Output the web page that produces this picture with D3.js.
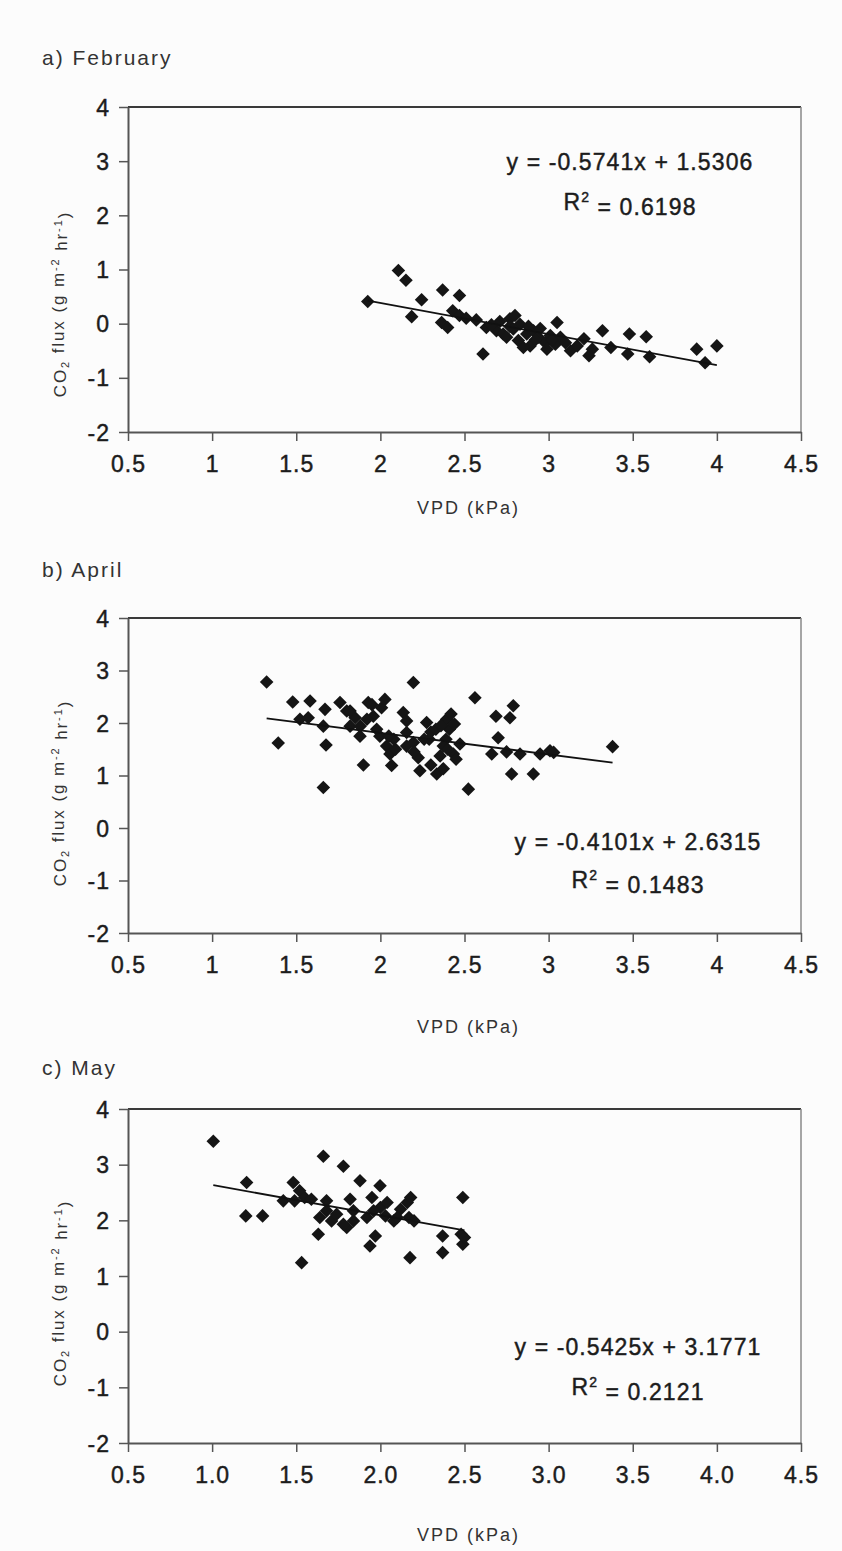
<!DOCTYPE html>
<html>
<head>
<meta charset="utf-8">
<script src="https://cdn.jsdelivr.net/npm/d3@7"></script>
<style>
  html, body { margin: 0; padding: 0; background: #fcfcfc; }
  svg { display: block; }
  text { font-family: "Liberation Sans", Arial, sans-serif; }
</style>
</head>
<body>
<svg id="chart" width="842" height="1551"></svg>
<script>
// ---------- data ----------
const panelTitles = ["a) February", "b) April", "c) May"];

const febVPD  = [1.925,2.107,2.152,2.245,2.186,2.37,2.47,2.364,2.40,2.43,2.47,2.51,2.57,2.61,2.63,2.69,2.73,2.77,2.80,2.77,2.83,2.82,2.87,2.89,2.91,2.94,2.98,3.01,3.05,3.04,3.07,3.13,3.17,3.21,3.24,3.26,3.32,3.37,3.48,3.47,3.58,3.60,3.88,3.93,4.00,2.75,2.85,2.99,2.71,2.95,2.66,2.79,2.92,3.02,2.88,3.10];
const febFlux = [0.41,0.98,0.80,0.44,0.13,0.62,0.52,0.02,-0.07,0.24,0.15,0.10,0.07,-0.56,-0.07,-0.13,-0.19,0.09,0.15,-0.05,-0.01,-0.31,-0.19,-0.41,-0.13,-0.25,-0.35,-0.22,0.02,-0.38,-0.25,-0.50,-0.41,-0.28,-0.59,-0.47,-0.13,-0.44,-0.19,-0.56,-0.24,-0.61,-0.47,-0.72,-0.41,-0.25,-0.44,-0.47,0.04,-0.09,-0.02,-0.10,-0.30,-0.30,-0.05,-0.35];

const aprVPD  = [1.324,1.393,1.479,1.582,1.522,1.571,1.671,1.661,1.677,1.661,1.760,1.80,1.82,1.85,1.879,1.899,1.928,1.958,1.978,2.007,2.027,1.997,2.037,2.057,2.067,2.09,2.136,2.156,2.196,2.156,2.196,2.225,2.235,2.275,2.30,2.29,2.335,2.355,2.374,2.394,2.41,2.42,2.434,2.45,2.374,2.473,2.523,2.562,2.662,2.687,2.70,2.79,2.77,2.75,2.78,2.83,2.909,2.949,3.008,3.03,3.38,1.82,1.88,1.92,2.33,2.39,2.156,2.08,2.26,2.36,2.44,2.40,2.20,2.05,1.95,2.30];
const aprFlux = [2.78,1.62,2.40,2.42,2.07,2.10,2.26,1.94,1.58,0.77,2.39,2.23,1.94,2.10,1.75,1.20,2.39,2.13,1.88,2.29,2.45,1.75,1.56,1.41,1.19,1.50,2.20,2.04,2.77,1.56,1.63,1.34,1.09,2.01,1.83,1.69,1.03,1.37,1.13,2.07,1.88,2.17,1.41,1.31,1.56,1.60,0.74,2.48,1.41,2.13,1.72,2.33,2.10,1.45,1.03,1.41,1.03,1.41,1.47,1.44,1.55,2.23,1.94,2.07,1.88,1.69,1.82,1.69,1.69,1.95,1.98,1.50,1.45,1.75,2.35,1.20];

const mayVPD  = [1.007,1.205,1.20,1.30,1.423,1.482,1.49,1.52,1.532,1.55,1.59,1.631,1.64,1.661,1.68,1.71,1.74,1.78,1.80,1.82,1.84,1.879,1.92,1.938,1.97,1.95,1.998,2.00,2.03,2.04,2.08,2.12,2.16,2.176,2.18,2.17,2.20,2.37,2.37,2.49,2.48,2.49,2.50,1.68,1.78,1.84,1.96,2.10];
const mayFlux = [3.42,2.68,2.08,2.08,2.35,2.68,2.35,2.53,1.24,2.41,2.38,1.75,2.05,3.15,2.17,1.99,2.11,2.97,1.87,2.38,1.99,2.71,2.05,1.54,1.72,2.41,2.62,2.23,2.08,2.32,1.99,2.20,2.32,1.33,2.41,2.05,1.99,1.72,1.42,2.41,1.75,1.57,1.69,2.35,1.93,2.17,2.17,2.05];

const slopes     = [-0.5741, -0.4101, -0.5425];
const intercepts = [1.5306, 2.6315, 3.1771];
const eqLabels   = ["y = -0.5741x + 1.5306", "y = -0.4101x + 2.6315", "y = -0.5425x + 3.1771"];
const r2Labels   = ["0.6198", "0.1483", "0.2121"];

const xTickValues = [0.5, 1, 1.5, 2, 2.5, 3, 3.5, 4, 4.5];
const xTickLabelsAB = ["0.5", "1", "1.5", "2", "2.5", "3", "3.5", "4", "4.5"];
const xTickLabelsC  = ["0.5", "1.0", "1.5", "2.0", "2.5", "3.0", "3.5", "4.0", "4.5"];
const yTickValues = [-2, -1, 0, 1, 2, 3, 4];
const yTickLabels = ["-2", "-1", "0", "1", "2", "3", "4"];
const xAxisTitle = "VPD (kPa)";

// ---------- layout ----------
const svg = d3.select("#chart");
const left = 128, right = 801;
const panels = [
  { top: 107, bottom: 432, vpd: febVPD, flux: febFlux, xt: xTickLabelsAB, titleY: 58, xLabY: 508, yLabC: 304, eqX: 630, eqY: 162, r2Y: 202 },
  { top: 618, bottom: 933, vpd: aprVPD, flux: aprFlux, xt: xTickLabelsAB, titleY: 570, xLabY: 1027, yLabC: 793, eqX: 638, eqY: 842, r2Y: 880 },
  { top: 1109, bottom: 1443, vpd: mayVPD, flux: mayFlux, xt: xTickLabelsC, titleY: 1068, xLabY: 1535, yLabC: 1293, eqX: 638, eqY: 1347, r2Y: 1387 }
];

const ink = "#1c1c1c";
const heavy = sel => sel.attr("stroke", ink).attr("stroke-width", 0.45).attr("paint-order", "stroke");

panels.forEach((p, i) => {
  const x = d3.scaleLinear().domain([0.5, 4.5]).range([left, right]);
  const y = d3.scaleLinear().domain([-2, 4]).range([p.bottom, p.top]);
  const g = svg.append("g");

  // frame: top and right
  g.append("line").attr("x1", left).attr("x2", right).attr("y1", p.top).attr("y2", p.top)
    .attr("stroke", "#3a3a3a").attr("stroke-width", 2);
  g.append("line").attr("x1", right).attr("x2", right).attr("y1", p.top).attr("y2", p.bottom)
    .attr("stroke", "#8a8a8a").attr("stroke-width", 1.5);

  // axes
  const xAxis = d3.axisBottom(x).tickValues(xTickValues)
    .tickFormat((d, k) => p.xt[k]).tickSize(9).tickSizeOuter(0).tickPadding(15);
  const yAxis = d3.axisLeft(y).tickValues(yTickValues)
    .tickFormat((d, k) => yTickLabels[k]).tickSize(9).tickSizeOuter(0).tickPadding(9);

  const gx = g.append("g").attr("transform", `translate(0,${p.bottom})`).call(xAxis);
  const gy = g.append("g").attr("transform", `translate(${left},0)`).call(yAxis);
  [gx, gy].forEach(a => {
    a.select(".domain").attr("stroke", "#555").attr("stroke-width", 2);
    a.selectAll(".tick line").attr("stroke", "#555").attr("stroke-width", 1.5);
    const t = a.selectAll(".tick text").attr("fill", ink).attr("font-size", 23)
      .attr("font-family", "Liberation Sans, Arial, sans-serif").style("letter-spacing", "1px");
    heavy(t);
  });
  gy.selectAll(".tick text").attr("dy", "0.35em");

  // title
  g.append("text").attr("x", 42).attr("y", p.titleY).attr("dy", "0.35em")
    .attr("font-size", 21).attr("fill", "#333").style("letter-spacing", "2px")
    .text(panelTitles[i]);

  // x axis title
  g.append("text").attr("x", (left + right) / 2 + 4).attr("y", p.xLabY).attr("dy", "0.35em")
    .attr("text-anchor", "middle").attr("font-size", 18).attr("fill", "#333")
    .style("letter-spacing", "2px").text(xAxisTitle);

  // y axis title
  const yt = g.append("text")
    .attr("transform", `translate(60,${p.yLabC}) rotate(-90)`)
    .attr("text-anchor", "middle").attr("dy", "0.35em")
    .attr("font-size", 17).attr("fill", "#333").style("letter-spacing", "1.9px");
  yt.append("tspan").text("CO");
  yt.append("tspan").attr("font-size", 11).attr("dy", "0.3em").text("2");
  yt.append("tspan").attr("dy", "-0.3em").text(" flux (g m");
  yt.append("tspan").attr("font-size", 11).attr("dy", "-0.5em").text("-2");
  yt.append("tspan").attr("dy", "0.5em").text(" hr");
  yt.append("tspan").attr("font-size", 11).attr("dy", "-0.5em").text("-1");
  yt.append("tspan").attr("dy", "0.5em").text(")");

  // points
  const pts = p.vpd.map((v, k) => ({ v, f: p.flux[k] }));
  g.selectAll("path.pt").data(pts).enter().append("path").attr("class", "pt")
    .attr("d", d3.symbol().type(d3.symbolSquare).size(92))
    .attr("transform", d => `translate(${x(d.v)},${y(d.f)}) rotate(45)`)
    .attr("fill", "#151515");

  // trend line
  const ext = d3.extent(p.vpd);
  const line = d3.line().x(d => x(d)).y(d => y(slopes[i] * d + intercepts[i]));
  g.append("path").datum(ext).attr("d", line)
    .attr("stroke", "#111").attr("stroke-width", 1.8).attr("fill", "none");

  // equation
  const eq = g.append("text").attr("x", p.eqX).attr("y", p.eqY).attr("dy", "0.35em")
    .attr("text-anchor", "middle").attr("font-size", 23).attr("fill", ink)
    .style("letter-spacing", "1.1px").text(eqLabels[i]);
  heavy(eq);
  const r2 = g.append("text").attr("x", p.eqX).attr("y", p.r2Y).attr("dy", "0.35em")
    .attr("text-anchor", "middle").attr("font-size", 23).attr("fill", ink)
    .style("letter-spacing", "1.1px");
  r2.append("tspan").text("R");
  r2.append("tspan").attr("font-size", 14).attr("dy", "-0.6em").text("2");
  r2.append("tspan").attr("dy", "0.6em").text(" = " + r2Labels[i]);
  heavy(r2);
});
</script>
</body>
</html>
